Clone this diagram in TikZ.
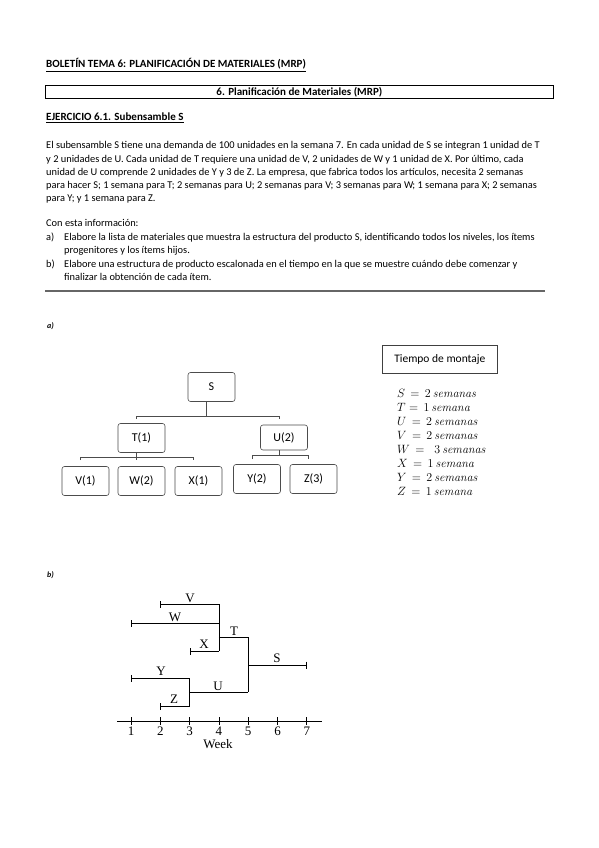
\documentclass[tikz,border=0pt]{standalone}
\usepackage[no-math]{fontspec}
\setmainfont{Carlito}
\newfontfamily\timesf{Liberation Serif}
\usetikzlibrary{arrows.meta}
\begin{document}
\begin{tikzpicture}[x=1pt,y=-1pt,
  box/.style={draw=black!70, rounded corners=2.5pt, line width=0.6pt, minimum width=47pt, minimum height=29pt, inner sep=0pt, font=\fontsize{12}{13}\selectfont},
  conn/.style={draw=black!70, line width=0.6pt},
  para/.style={anchor=base west, inner sep=0pt, font=\fontsize{10.4}{12}\selectfont},
  head/.style={anchor=base west, inner sep=0pt, font=\bfseries\fontsize{11}{13}\selectfont},
  leg/.style={anchor=base west, inner sep=0pt, font=\fontsize{12}{13}\selectfont},
  bar/.style={line width=0.7pt},
  lbl/.style={inner sep=0pt, font=\timesf\fontsize{13}{14}\selectfont},
  startbar/.style={bar, {Bar[width=7pt,line width=0.7pt]}-},
  endbar/.style={bar, -{Bar[width=7pt,line width=0.7pt]}}]
\path[use as bounding box, fill=white] (0,0) rectangle (599,848);

% ---- header text ----
\node[head] (t1) at (46,68) {\underline{BOLETÍN TEMA 6: PLANIFICACIÓN DE MATERIALES (MRP)}};
\node[draw, line width=0.7pt, minimum width=508pt, minimum height=13pt, anchor=north west, inner sep=0pt, font=\bfseries\fontsize{11}{13}\selectfont] (hbox) at (45,85) {6. Planificación de Materiales (MRP)};
\node[head] (t2) at (46,121) {\underline{EJERCICIO 6.1. Subensamble S}};
\node[para] (p1) at (46,149) {El subensamble S tiene una demanda de 100 unidades en la semana 7. En cada unidad de S se integran 1 unidad de T};
\node[para] (p2) at (46,162) {y 2 unidades de U. Cada unidad de T requiere una unidad de V, 2 unidades de W y 1 unidad de X. Por último, cada};
\node[para] (p3) at (46,175) {unidad de U comprende 2 unidades de Y y 3 de Z. La empresa, que fabrica todos los artículos, necesita 2 semanas};
\node[para] (p4) at (46,188) {para hacer S; 1 semana para T; 2 semanas para U; 2 semanas para V; 3 semanas para W; 1 semana para X; 2 semanas};
\node[para] (p5) at (46,201) {para Y; y 1 semana para Z.};
\node[para] (c1) at (46,226) {Con esta información:};
\node[para] (qa) at (46,240) {a)};
\node[para] (qa1) at (64,240) {Elabore la lista de materiales que muestra la estructura del producto S, identificando todos los niveles, los ítems};
\node[para] (qa2) at (64,253) {progenitores y los ítems hijos.};
\node[para] (qb) at (46,267) {b)};
\node[para] (qb1) at (64,267) {Elabore una estructura de producto escalonada en el tiempo en la que se muestre cuándo debe comenzar y};
\node[para] (qb2) at (64,280) {finalizar la obtención de cada ítem.};
\coordinate (r0) at (45,291);
\coordinate (r1) at (545,291);
\draw[black!60, line width=1.2pt] (r0) -- (r1);

% ---- part a ----
\node[anchor=base west, inner sep=0pt, font=\bfseries\itshape\fontsize{8}{10}\selectfont] (la) at (47,328) {a)};

\node[box] (S) at (211.5,387) {S};
\node[box] (T) at (141.5,438) {T(1)};
\node[box, minimum height=25pt] (U) at (284,437.5) {U(2)};
\node[box] (V) at (85.5,481) {V(1)};
\node[box] (W) at (141.5,481) {W(2)};
\node[box] (X) at (198.5,481) {X(1)};
\node[box] (Y) at (257,479) {Y(2)};
\node[box] (Z) at (313.5,479) {Z(3)};

\draw[conn] ([xshift=-5pt]S.south) -- ++(0,14) coordinate (sj);
\draw[conn] ([xshift=-5pt,yshift=4pt]T.north) |- (sj) -| ([xshift=-5pt,yshift=6pt]U.north);
\draw[conn] ([xshift=-5pt]T.south) -- ++(0,4) coordinate (tj);
\draw[conn] ([xshift=-5pt,yshift=6pt]V.north) |- (tj) -| ([xshift=-5pt,yshift=6pt]X.north);
\draw[conn] (tj) -- ([xshift=-5pt,yshift=6pt]W.north);
\draw[conn] ([xshift=-5pt]U.south) -- ++(0,5) coordinate (uj);
\draw[conn] ([xshift=-5pt,yshift=5pt]Y.north) |- (uj) -| ([xshift=-5pt,yshift=5pt]Z.north);

\node[draw=black!75, line width=0.7pt, minimum width=115pt, minimum height=28pt, anchor=north west, inner sep=0pt, font=\fontsize{11.5}{13}\selectfont] (tm) at (382,345) {Tiempo de montaje};
\node[leg] (lS) at (397,397) {$S\,=\,2\,\mathit{semanas}$};
\node[leg] (lT) at (397,411) {$T=\,1\,\mathit{semana}$};
\node[leg] (lU) at (397,425) {$U\,=\,2\,\mathit{semanas}$};
\node[leg] (lV) at (397,439) {$V\,=\,2\,\mathit{semanas}$};
\node[leg] (lW) at (397,453) {$W\,=\;\;3\,\mathit{semanas}$};
\node[leg] (lX) at (397,467) {$X\,=\,1\,\mathit{semana}$};
\node[leg] (lY) at (397,481) {$Y\,=\,2\,\mathit{semanas}$};
\node[leg] (lZ) at (397,495) {$Z\,=\,1\,\mathit{semana}$};

% ---- part b ----
\node[anchor=base west, inner sep=0pt, font=\bfseries\itshape\fontsize{8}{10}\selectfont] (lb) at (47,577) {b)};

\coordinate (V0) at (160.3,604); \coordinate (V1) at (218.9,604);
\coordinate (W0) at (131,623);   \coordinate (W1) at (218.9,623);
\coordinate (X0) at (189.6,651); \coordinate (X1) at (218.9,651);
\coordinate (T0) at (218.9,637); \coordinate (T1) at (248.2,637);
\coordinate (Y0) at (131,678);   \coordinate (Y1) at (189.6,678);
\coordinate (Z0) at (160.3,706); \coordinate (Z1) at (189.6,706);
\coordinate (U0) at (189.6,692); \coordinate (U1) at (248.2,692);
\coordinate (S0) at (248.2,665); \coordinate (S1) at (306.8,665);

\draw[startbar] (V0) -- (V1);
\draw[startbar] (W0) -- (W1);
\draw[startbar] (X0) -- (X1);
\draw[bar] (V1) -- (X1);
\draw[bar] (T0) -- (T1);
\draw[startbar] (Y0) -- (Y1);
\draw[startbar] (Z0) -- (Z1);
\draw[bar] (Y1) -- (Z1);
\draw[bar] (U0) -- (U1);
\draw[bar] (T1) -- (U1);
\draw[endbar] (S0) -- (S1);

\node[lbl] (nV) at (190,598) {V};
\node[lbl] (nW) at (175,617) {W};
\node[lbl] (nX) at (204,644) {X};
\node[lbl] (nT) at (234,631) {T};
\node[lbl] (nS) at (277,658) {S};
\node[lbl] (nY) at (161,671) {Y};
\node[lbl] (nU) at (218,686) {U};
\node[lbl] (nZ) at (174,699) {Z};

\coordinate (ax0) at (117,721);
\coordinate (ax1) at (322,721);
\draw[bar] (ax0) -- (ax1);
\foreach \i in {1,...,7} {
  \coordinate (tk\i) at ({131+(\i-1)*29.3},721);
  \draw[bar] ([yshift=4pt]tk\i) -- ([yshift=-4pt]tk\i);
  \node[lbl] (wk\i) at ({131+(\i-1)*29.3},731) {\i};
}
\node[lbl] (week) at (218,744) {Week};
\end{tikzpicture}
\end{document}
